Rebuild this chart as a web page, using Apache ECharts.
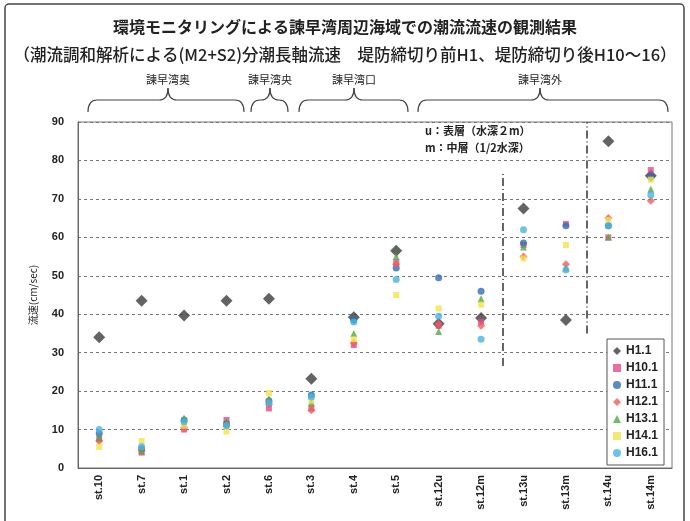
<!DOCTYPE html>
<html><head><meta charset="utf-8">
<script src="https://cdn.jsdelivr.net/npm/echarts@6/dist/echarts.min.js"></script>
<style>html,body{margin:0;padding:0;background:#fff}#c{width:690px;height:521px}</style>
</head><body><div id="c"></div>
<script>
const categories = ['st.10','st.7','st.1','st.2','st.6','st.3','st.4','st.5','st.12u','st.12m','st.13u','st.13m','st.14u','st.14m'];
const H1_1  = [34, 43.5, 39.7, 43.5, 44, 23.2, 39.2, 56.5, 37.5, 39, 67.5, 38.5, 85, 76];
const H10_1 = [7.5, 4, 10, 12.5, 15.5, 15.5, 32, 53.5, 37, 38, 58, 63.5, 60, 77.5];
const H11_1 = [9, 5, 12.5, 11.5, 17.5, 19, 38.5, 52, 49.5, 46, 58.5, 63, 63, 76];
const H12_1 = [7, 4.5, 10.5, 11, 16.5, 15, 32.5, 53, 37.5, 37, 55, 53, 65, 69.5];
const H13_1 = [8, 4.5, 13, 12, 18, 17, 35, 55, 35.5, 44, 57.5, 52, 60, 72.5];
const H14_1 = [5.5, 7, 11, 9.5, 19.5, 17.5, 33.5, 45, 41.5, 42.5, 54.5, 58, 64.5, 75];
const H16_1 = [10, 5.5, 12, 11, 17, 18.5, 38, 49, 39.5, 33.5, 62, 51.5, 63, 71];
const yTicks = [0,10,20,30,40,50,60,70,80,90];
const groups = ['諫早湾奥','諫早湾央','諫早湾口','諫早湾外'];

const chart = echarts.init(document.getElementById('c'));
const sdef = [
  ['H1.1', H1_1, 'diamond', 12, '#3c3c3c'],
  ['H10.1', H10_1, 'rect', 6, '#e8488c'],
  ['H11.1', H11_1, 'circle', 7, '#2f6db5'],
  ['H12.1', H12_1, 'diamond', 8, '#f05d5a'],
  ['H13.1', H13_1, 'triangle', 7, '#52a845'],
  ['H14.1', H14_1, 'rect', 6, '#f3e24a'],
  ['H16.1', H16_1, 'circle', 7, '#46b4e4']
];
const series = sdef.map(d => ({
  name: d[0], type: 'scatter', data: d[1], symbol: d[2], symbolSize: d[3],
  itemStyle: {color: d[4]}, z: d[0]==='H1.1' ? 3 : 4, xAxisIndex: 0
}));
series.push({
  type: 'scatter', xAxisIndex: 1, data: [], silent: true,
  markLine: {
    symbol: ['none','none'], silent: true, label: {show:false},
    data: [
      [{coord:[4,0], lineStyle:{type:[9,5], width:3.5, color:'#555'}}, {coord:[4,92.5]}],
      [{coord:[5,0], lineStyle:{type:[9,5], width:3.5, color:'#555'}}, {coord:[5,92.5]}],
      [{coord:[8,0], lineStyle:{type:[9,5], width:3.5, color:'#555'}}, {coord:[8,92.5]}],
      [{coord:[10,26.5], lineStyle:{type:[8,3,1,3], width:1.5, color:'#333'}}, {coord:[10,76.5]}],
      [{coord:[12,35], lineStyle:{type:[8,3,1,3], width:1.5, color:'#333'}}, {coord:[12,90]}]
    ]
  }
});

const bStyle = {fill:'none', stroke:'#444', lineWidth:1.2};
function brace(x1, x2, mid) {
  const yb = 112, yh = 100, yp = 88, r = 9;
  return [
    {type:'bezierCurve', shape:{x1:x1, y1:yb, x2:x1+r, y2:yh, cpx1:x1, cpy1:yh}, style:bStyle, silent:true},
    {type:'line', shape:{x1:x1+r, y1:yh, x2:mid-r, y2:yh}, style:bStyle, silent:true},
    {type:'bezierCurve', shape:{x1:mid-r, y1:yh, x2:mid, y2:yp, cpx1:mid, cpy1:yh}, style:bStyle, silent:true},
    {type:'bezierCurve', shape:{x1:mid, y1:yp, x2:mid+r, y2:yh, cpx1:mid, cpy1:yh}, style:bStyle, silent:true},
    {type:'line', shape:{x1:mid+r, y1:yh, x2:x2-r, y2:yh}, style:bStyle, silent:true},
    {type:'bezierCurve', shape:{x1:x2-r, y1:yh, x2:x2, y2:yb, cpx1:x2, cpy1:yh}, style:bStyle, silent:true}
  ];
}
const braceDefs = [[88,244,168],[251,288,270],[299,408,354],[418,668,540]];
let graphics = [
  {type:'rect', shape:{x:5,y:4,width:679,height:530,r:4}, style:{fill:'none', stroke:'#444', lineWidth:1.5}, silent:true},
  {type:'rect', shape:{x:78,y:122,width:594,height:346}, style:{fill:'none', stroke:'#777', lineWidth:1}, silent:true},
  {type:'text', x:345, y:19, style:{text:'環境モニタリングによる諫早湾周辺海域での潮流流速の観測結果', font:'bold 16px "Noto Sans CJK JP"', fill:'#222', textAlign:'center'}},
  {type:'text', x:345, y:46, style:{text:'（潮流調和解析による(M2+S2)分潮長軸流速　堤防締切り前H1、堤防締切り後H10～16）', font:'500 16.5px "Noto Sans CJK JP"', fill:'#222', textAlign:'center'}},
  {type:'text', x:425, y:125, style:{text:'u：表層（水深２m）', font:'bold 11px "Noto Sans CJK JP"', fill:'#222'}},
  {type:'text', x:425, y:142, style:{text:'m：中層（1/2水深）', font:'bold 11px "Noto Sans CJK JP"', fill:'#222'}}
];
braceDefs.forEach((b,i) => {
  graphics = graphics.concat(brace(b[0],b[1],b[2]));
  graphics.push({type:'text', x:b[2], y:74, style:{text:groups[i], font:'11px "Noto Sans CJK JP"', fill:'#222', textAlign:'center'}});
});

chart.setOption({
  animation: false,
  backgroundColor: '#fff',
  grid: {left:78, right:18, top:122, bottom:53},
  xAxis: [{
    type:'category', data: categories,
    axisLine:{lineStyle:{color:'#666'}},
    axisTick:{inside:true, length:4, lineStyle:{color:'#666'}},
    axisLabel:{rotate:90, margin:7, color:'#222', fontWeight:'bold', fontSize:11, fontFamily:'Liberation Sans'},
    splitLine:{show:false}
  },{
    type:'value', min:0, max:14, show:false
  }],
  yAxis: {
    type:'value', min:0, max:90, interval:10,
    name:'流速(cm/sec)', nameLocation:'middle', nameGap:40, nameRotate:90,
    nameTextStyle:{fontSize:10, color:'#222', fontFamily:'Noto Sans CJK JP'},
    axisLine:{show:true, lineStyle:{color:'#666'}},
    axisTick:{show:false},
    axisLabel:{color:'#222', fontWeight:'bold', fontSize:11, fontFamily:'Liberation Sans', margin:14,
      formatter: v => yTicks.includes(v) ? String(v) : ''},
    splitLine:{show:true, lineStyle:{type:[3,3], color:'#777'}}
  },
  legend: {
    orient:'vertical', left:607, top:339,
    data: sdef.map(d => ({name:d[0], icon:d[2]})),
    itemWidth:8, itemHeight:8, itemGap:3,
    backgroundColor:'#fff', borderColor:'#555', borderWidth:1, padding:[5,6,5,6],
    textStyle:{fontWeight:'bold', fontSize:12, lineHeight:14, color:'#222', fontFamily:'Liberation Sans'}
  },
  graphic: graphics,
  series: series
});
</script></body></html>
